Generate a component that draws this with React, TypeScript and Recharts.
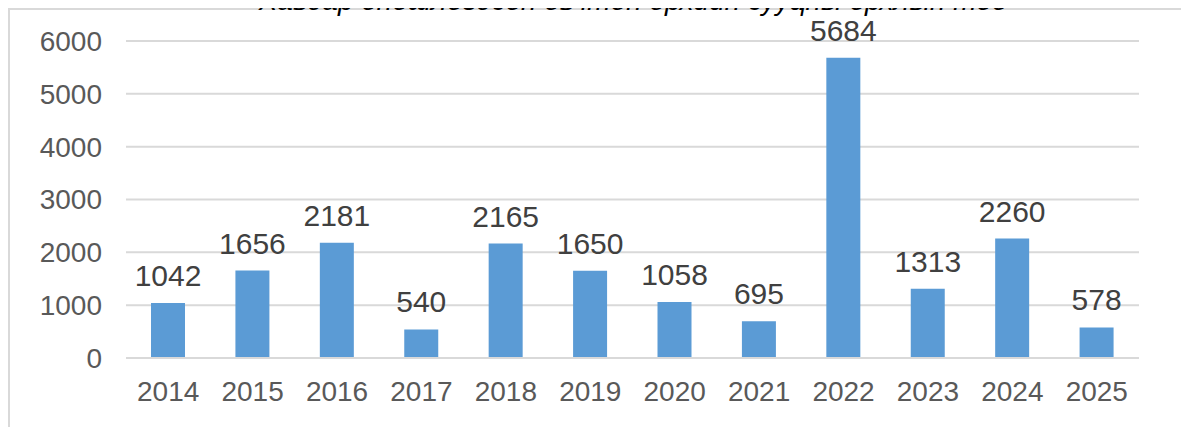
import React from 'react';
import { BarChart, Bar, XAxis, YAxis, CartesianGrid, LabelList } from 'recharts';

const years = ['2014', '2015', '2016', '2017', '2018', '2019', '2020', '2021', '2022', '2023', '2024', '2025'];
const counts = [1042, 1656, 2181, 540, 2165, 1650, 1058, 695, 5684, 1313, 2260, 578];
const yTicks = [0, 1000, 2000, 3000, 4000, 5000, 6000];

const data = years.map((year, i) => ({ year, count: counts[i] }));

const font = '"Liberation Sans", Arial, sans-serif';

export default function App() {
  return (
    <div style={{ position: 'relative', width: 1181, height: 419, fontFamily: font }}>
      <div
        style={{
          position: 'absolute',
          inset: 0,
          borderTop: '2px solid #d9d9d9',
          borderLeft: '2px solid #d9d9d9',
          background: '#fff',
        }}
      >
        <BarChart width={1179} height={417} data={data} margin={{ top: 31, right: 50, bottom: 9, left: 0 }}>
          <CartesianGrid vertical={false} stroke="#d9d9d9" strokeWidth={2} />
          <XAxis
            dataKey="year"
            height={60}
            tickSize={0}
            tickMargin={23}
            axisLine={{ stroke: '#d9d9d9', strokeWidth: 2 }}
            tick={{ fill: '#595959', fontSize: 28, fontFamily: font }}
          />
          <YAxis
            width={116}
            domain={[0, 6000]}
            ticks={yTicks}
            tickSize={0}
            tickMargin={24}
            axisLine={false}
            tick={{ fill: '#595959', fontSize: 28, fontFamily: font }}
          />
          <Bar dataKey="count" fill="#5b9bd5" barSize={34} isAnimationActive={false}>
            <LabelList dataKey="count" position="top" offset={17} fill="#404040" fontSize={30} fontFamily={font} />
          </Bar>
        </BarChart>
      </div>
      <div
        style={{
          position: 'absolute',
          zIndex: 1,
          top: -21,
          left: 0,
          width: 1250,
          textAlign: 'center',
          fontStyle: 'italic',
          fontSize: 28,
          lineHeight: '28px',
          color: '#000',
          whiteSpace: 'nowrap',
        }}
      >
        Хавдар оношлогдсон өвчтөн өрхийн сууцны орхлын тоо
      </div>
    </div>
  );
}
